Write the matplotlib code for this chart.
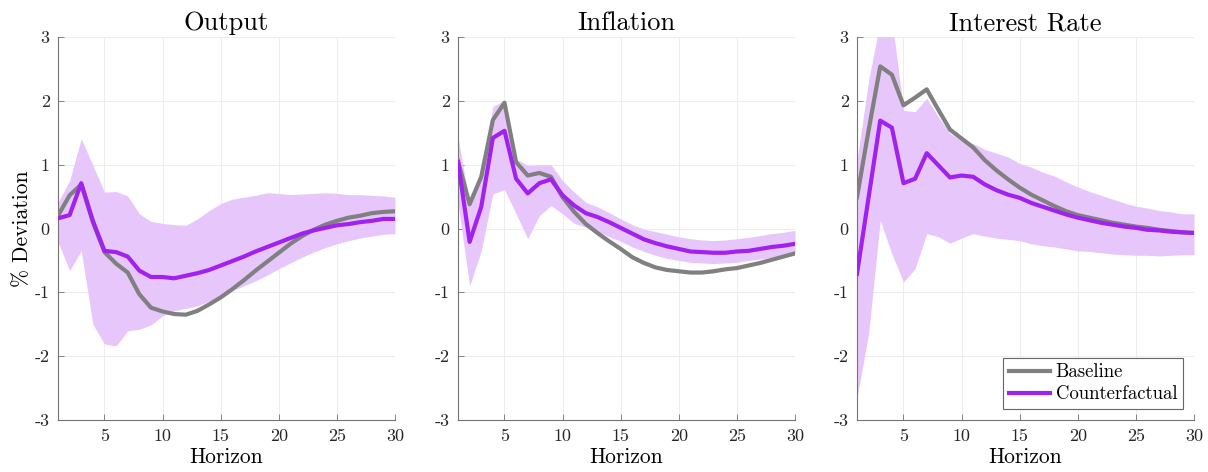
import matplotlib
matplotlib.use("Agg")
import matplotlib.pyplot as plt
import numpy as np

plt.rcParams['font.family'] = ['cmr10', 'DejaVu Serif']
plt.rcParams['axes.unicode_minus'] = False
plt.rcParams['mathtext.fontset'] = 'cm'

horizon = np.arange(1, 31)

# Output
out_base = [0.20, 0.52, 0.69, 0.10, -0.37, -0.55, -0.69, -1.03, -1.24, -1.30,
            -1.34, -1.35, -1.29, -1.19, -1.08, -0.95, -0.81, -0.66, -0.52, -0.38,
            -0.24, -0.12, -0.02, 0.06, 0.12, 0.17, 0.20, 0.24, 0.26, 0.27]
out_cf = [0.16, 0.21, 0.71, 0.12, -0.35, -0.37, -0.44, -0.66, -0.76, -0.76,
          -0.78, -0.74, -0.70, -0.65, -0.58, -0.51, -0.44, -0.36, -0.29, -0.22,
          -0.15, -0.08, -0.03, 0.01, 0.05, 0.07, 0.10, 0.12, 0.15, 0.15]
out_hi = [0.41, 0.75, 1.41, 0.99, 0.57, 0.58, 0.51, 0.23, 0.11, 0.08,
          0.06, 0.05, 0.15, 0.28, 0.39, 0.46, 0.49, 0.52, 0.56, 0.55,
          0.53, 0.54, 0.55, 0.56, 0.55, 0.53, 0.53, 0.52, 0.51, 0.49]
out_lo = [-0.21, -0.66, -0.35, -1.50, -1.81, -1.84, -1.60, -1.58, -1.51, -1.37,
          -1.29, -1.25, -1.21, -1.14, -1.05, -0.97, -0.90, -0.82, -0.73, -0.63,
          -0.54, -0.45, -0.37, -0.30, -0.24, -0.19, -0.15, -0.12, -0.09, -0.08]

# Inflation
inf_base = [1.06, 0.38, 0.81, 1.70, 1.97, 1.04, 0.83, 0.87, 0.81, 0.49,
            0.26, 0.07, -0.07, -0.20, -0.32, -0.45, -0.54, -0.61, -0.65, -0.67,
            -0.69, -0.69, -0.67, -0.64, -0.62, -0.58, -0.54, -0.49, -0.44, -0.39]
inf_cf = [1.04, -0.21, 0.34, 1.42, 1.53, 0.78, 0.55, 0.71, 0.77, 0.52,
          0.36, 0.24, 0.18, 0.10, 0.01, -0.08, -0.17, -0.23, -0.28, -0.32,
          -0.36, -0.37, -0.38, -0.38, -0.36, -0.35, -0.32, -0.29, -0.27, -0.24]
inf_hi = [1.43, 0.40, 0.86, 1.91, 2.01, 1.09, 0.99, 1.00, 1.00, 0.75,
          0.57, 0.41, 0.34, 0.25, 0.15, 0.06, -0.01, -0.05, -0.09, -0.13,
          -0.16, -0.18, -0.19, -0.18, -0.16, -0.14, -0.11, -0.08, -0.06, -0.03]
inf_lo = [0.39, -0.90, -0.35, 0.54, 0.61, 0.23, -0.16, 0.20, 0.36, 0.23,
          0.08, 0.02, -0.04, -0.13, -0.20, -0.29, -0.36, -0.42, -0.47, -0.50,
          -0.53, -0.54, -0.55, -0.54, -0.53, -0.50, -0.48, -0.45, -0.42, -0.40]

# Interest rate
ir_base = [0.49, 1.54, 2.54, 2.41, 1.93, 2.05, 2.18, 1.86, 1.55, 1.41,
           1.27, 1.07, 0.91, 0.77, 0.64, 0.53, 0.44, 0.35, 0.27, 0.21,
           0.17, 0.13, 0.09, 0.06, 0.03, 0.01, -0.02, -0.04, -0.06, -0.07]
ir_cf = [-0.71, 0.49, 1.69, 1.58, 0.71, 0.78, 1.18, 0.99, 0.80, 0.83,
         0.81, 0.69, 0.60, 0.53, 0.48, 0.40, 0.34, 0.28, 0.22, 0.17,
         0.13, 0.09, 0.06, 0.03, 0.01, -0.02, -0.03, -0.05, -0.06, -0.07]
ir_hi = [1.07, 2.32, 3.25, 3.30, 1.85, 1.83, 2.04, 1.75, 1.49, 1.38,
         1.33, 1.24, 1.18, 1.12, 1.02, 0.96, 0.88, 0.82, 0.73, 0.65,
         0.58, 0.52, 0.46, 0.40, 0.35, 0.32, 0.28, 0.26, 0.23, 0.23]
ir_lo = [-2.65, -1.65, 0.13, -0.40, -0.84, -0.63, -0.08, -0.13, -0.23, -0.15,
         -0.08, -0.12, -0.15, -0.17, -0.19, -0.24, -0.27, -0.29, -0.32, -0.35,
         -0.36, -0.38, -0.40, -0.41, -0.42, -0.42, -0.43, -0.42, -0.41, -0.41]

titles = ["Output", "Inflation", "Interest Rate"]
panels = [(out_base, out_cf, out_lo, out_hi),
          (inf_base, inf_cf, inf_lo, inf_hi),
          (ir_base, ir_cf, ir_lo, ir_hi)]

gray = (0.5, 0.5, 0.5)
purple = (0.63, 0.13, 0.94)
band = (0.906, 0.78, 0.984)

fig = plt.figure(figsize=(12.08, 4.72), dpi=100)
lefts = [58 / 1208, 458 / 1208, 857 / 1208]
width = 337 / 1208
bottom = 52 / 472
height = 383 / 472

for i, (title, (base, cf, lo, hi)) in enumerate(zip(titles, panels)):
    ax = fig.add_axes([lefts[i], bottom, width, height])
    ax.fill_between(horizon, lo, hi, color=band, linewidth=0, zorder=1)
    ax.plot(horizon, base, color=gray, lw=3, label="Baseline", zorder=3)
    ax.plot(horizon, cf, color=purple, lw=3, label="Counterfactual", zorder=4)
    ax.set_xlim(1, 30)
    ax.set_ylim(-3, 3)
    ax.set_xticks([5, 10, 15, 20, 25, 30])
    ax.set_yticks(range(-3, 4))
    ax.set_yticklabels([str(v) for v in range(-3, 4)])
    ax.grid(True, color=(0.93, 0.93, 0.93), linewidth=0.8, zorder=0)
    ax.set_axisbelow(True)
    for side in ["top", "right"]:
        ax.spines[side].set_visible(False)
    for side in ["left", "bottom"]:
        ax.spines[side].set_color((0.45, 0.45, 0.45))
        ax.spines[side].set_linewidth(0.8)
    ax.tick_params(direction="in", length=4, width=0.6, color=(0.45, 0.45, 0.45),
                   labelsize=13, labelcolor=(0.15, 0.15, 0.15), pad=6)
    ax.set_title(title, fontsize=19, pad=5)
    ax.set_xlabel("Horizon", fontsize=15.5, labelpad=3)
    if i == 0:
        ax.set_ylabel("% Deviation", fontsize=15.5, labelpad=2)
    if i == 2:
        leg = ax.legend(loc="lower right", fontsize=13.5, fancybox=False,
                        framealpha=1, edgecolor=(0.4, 0.4, 0.4),
                        handlelength=2.2, handletextpad=0.3, borderpad=0.3,
                        labelspacing=0.2, borderaxespad=0.6)
        leg.get_frame().set_linewidth(0.8)

fig.savefig("out.png", dpi=100)
